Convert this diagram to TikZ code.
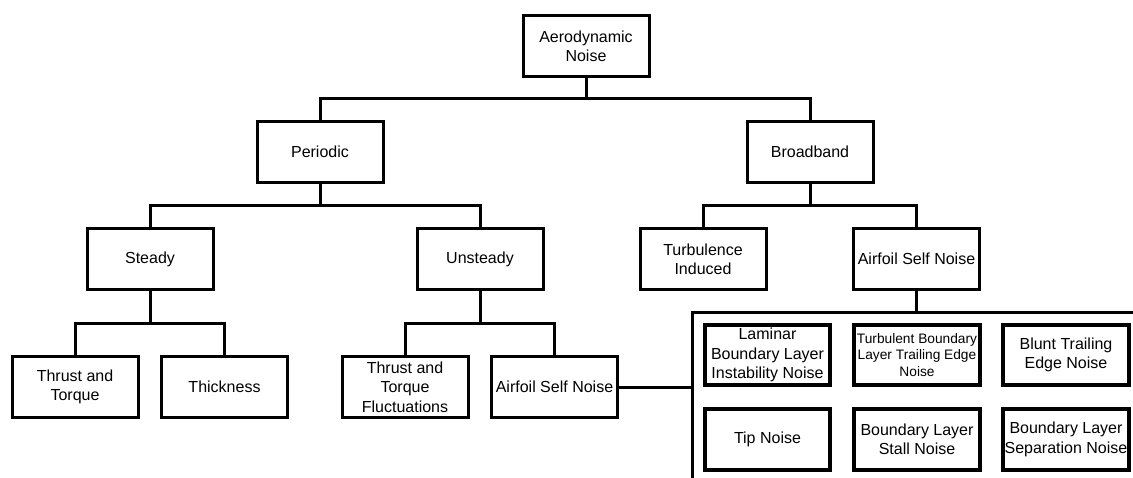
\documentclass[tikz,border=0pt]{standalone}
\usepackage{fontspec}
\setmainfont{Liberation Sans}
\begin{document}
\begin{tikzpicture}[x=0.75pt,y=-0.75pt,
  box/.style={draw, line width=2.25pt, minimum width=94.5pt, minimum height=45.75pt,
    inner sep=1pt, align=center, font=\fontsize{12}{14.5}\selectfont},
  inbox/.style={box, line width=3pt, minimum width=94pt, minimum height=45.5pt},
  smalltext/.style={font=\fontsize{10.3}{12.2}\selectfont},
  link/.style={line width=2.25pt}]
\useasboundingbox (0,0) rectangle (1133,478);
% level 1
\node[box] (aero) at (586,46) {Aerodynamic\\Noise};
% level 2
\node[box] (periodic) at (320,152) {Periodic};
\node[box] (broadband) at (810,152) {Broadband};
% level 3
\node[box] (steady) at (150,259) {Steady};
\node[box] (unsteady) at (480,259) {Unsteady};
\node[box] (turb) at (703,259) {Turbulence\\Induced};
\node[box] (afsB) at (916.5,259) {Airfoil Self Noise};
% level 4
\node[box] (tt) at (75,387) {Thrust and\\Torque};
\node[box] (thick) at (224.5,387) {Thickness};
\node[box] (ttf) at (405,387) {Thrust and\\Torque\\Fluctuations};
\node[box] (afsU) at (554.5,387) {Airfoil Self Noise};
% inner group
\node[inbox] (lbl) at (767.5,355) {Laminar\\Boundary Layer\\Instability Noise};
\node[inbox,smalltext] (tbl) at (917,355) {Turbulent Boundary\\Layer Trailing Edge\\Noise};
\node[inbox] (blunt) at (1066,355) {Blunt Trailing\\Edge Noise};
\node[inbox] (tip) at (767.5,439.5) {Tip Noise};
\node[inbox] (stall) at (917,439.5) {Boundary Layer\\Stall Noise};
\node[inbox] (sep) at (1066,439.5) {Boundary Layer\\Separation Noise};
% junctions
\coordinate (j1) at (586,99);
\coordinate (j2) at (320,205.5);
\coordinate (j3) at (810,205.5);
\coordinate (j4) at (150,323);
\coordinate (j5) at (480,323);
\coordinate (bt) at (692,312);
\coordinate (br) at (1133,312);
\coordinate (bb) at (692,478);
% connectors
\draw[link] (aero.south) -- (j1);
\draw[link] (periodic.north) |- (j1) -| (broadband.north);
\draw[link] (periodic.south) -- (j2);
\draw[link] (steady.north) |- (j2) -| (unsteady.north);
\draw[link] (broadband.south) -- (j3);
\draw[link] (turb.north) |- (j3) -| (afsB.north);
\draw[link] (steady.south) -- (j4);
\draw[link] (tt.north) |- (j4) -| (thick.north);
\draw[link] (unsteady.south) -- (j5);
\draw[link] (ttf.north) |- (j5) -| (afsU.north);
\draw[link] (afsB.south) -- (afsB.south |- bt);
\draw[link] (br) -- (bt) -- (bb);
\draw[link] (afsU.east) -- (afsU.east -| bt);
\end{tikzpicture}
\end{document}
